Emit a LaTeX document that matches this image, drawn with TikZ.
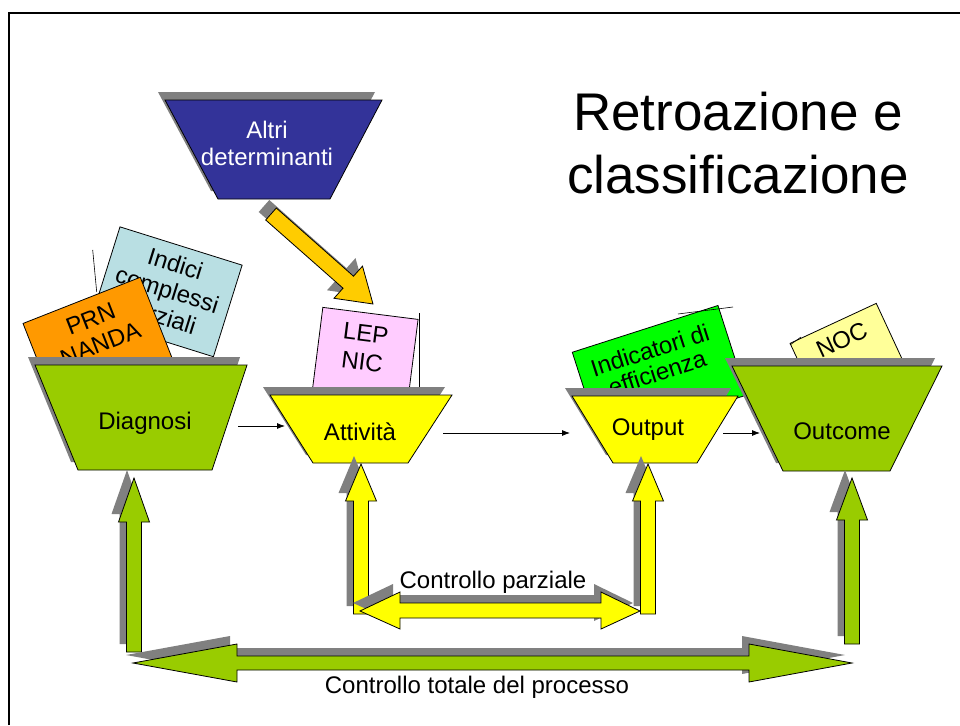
\documentclass[tikz,border=0pt]{standalone}
\usepackage{fontspec}
\setmainfont{Liberation Sans}
\usetikzlibrary{shadows,arrows.meta}

\definecolor{limegr}{HTML}{99CC00}
\definecolor{yell}{HTML}{FFFF00}
\definecolor{detblue}{HTML}{333399}
\definecolor{amber}{HTML}{FFCC00}
\definecolor{cardblue}{HTML}{B9DFE3}
\definecolor{cardorange}{HTML}{FF9900}
\definecolor{cardpink}{HTML}{FFCCFF}
\definecolor{cardgreen}{HTML}{00FF00}
\definecolor{cardcream}{HTML}{FFFF99}

\tikzset{
  grayshadow/.style={drop shadow={shadow xshift=-7pt, shadow yshift=8pt,
      fill=black!50, opacity=1}},
  funnel/.style={draw=black, line width=0.8pt, grayshadow},
  card/.style={rectangle, draw=black, line width=0.8pt, inner sep=0pt},
  lbl/.style={align=center, inner sep=0pt,
      font=\fontsize{24}{27}\selectfont},
  blockarrow/.style={draw=black, line width=0.8pt, grayshadow},
  flow/.style={-{Latex[length=8pt,width=6pt]}, line width=0.8pt},
}

\begin{document}
\begin{tikzpicture}[x=1pt, y=-1pt]
   \useasboundingbox (0,0) rectangle (960,725);
   %
   \draw[line width=2pt] (9,725) -- (9,13) -- (960,13);
   %
   \node[align=center, inner sep=0pt, font=\fontsize{53}{63}\selectfont]
        (title) at (738,143) {Retroazione e\\classificazione};
   %
   \filldraw[funnel, fill=detblue] (165,100) -- (382,100) -- (330,199) --
        (218,199) -- cycle;
   \node[lbl, text=white] (altri) at (267,143) {Altri\\determinanti};
   %
   \filldraw[blockarrow, fill=amber]
        (265.7,220) -- (343,288.2) -- (334,298.3) -- (373,304) --
        (362.5,266.1) -- (353.5,276.2) -- (276.3,208) -- cycle;
   %
   % cards
   \node[card, lbl, fill=cardblue, rotate=-17.4, minimum width=128pt,
         minimum height=96pt] (indici) at (166.7,291.8)
         {Indici\\complessi\\parziali};
   \draw[line width=0.6pt] (92.7,250) -- (96.7,292);
   %
   \node[card, fill=cardorange, rotate=21.5, minimum width=126pt,
         minimum height=110pt, anchor=north] (prn) at (81.5,300) {};
   \node[lbl, rotate=21.5] (prntext) at (95.5,331.5) {PRN\\NANDA};
   %
   \node[card, fill=cardpink, rotate=-7.2, minimum width=96pt,
         minimum height=100pt, anchor=north] (lep) at (370.5,313) {};
   \node[lbl, rotate=-7.2, font=\fontsize{24}{29}\selectfont]
        (leptext) at (364,347.5) {LEP\\NIC};
   \draw[line width=0.6pt] (419,313) -- (419,387);
   %
   \node[card, fill=cardgreen, rotate=17.8, minimum width=153pt,
         minimum height=94pt, anchor=north] (indic) at (645,328.5) {};
   \node[lbl, rotate=17.8, font=\fontsize{24}{24}\selectfont]
        (indictext) at (653.5,361.5) {Indicatori di\\efficienza};
   \draw[line width=0.6pt] (678,314) -- (733,307);
   %
   \node[card, fill=cardcream, rotate=24.9, minimum width=95pt,
         minimum height=90pt, anchor=north] (noc) at (833,323) {};
   \node[lbl, rotate=24.9] (noctext) at (841.7,340) {NOC};
   \draw[line width=0.6pt] (790,345) -- (801,337);
   %
   % funnels
   \filldraw[funnel, fill=limegr] (35,365) -- (247,365) -- (212,470) --
        (78,470) -- cycle;
   \node[lbl] (dgn) at (145,423) {Diagnosi};
   \coordinate (dgn-out) at (238,426);
   %
   \filldraw[funnel, fill=yell] (270,395) -- (452,395) -- (408,463) --
        (313,463) -- cycle;
   \node[lbl] (att) at (360,432) {Attività};
   \coordinate (att-in) at (285,426);
   \coordinate (att-out) at (443,433);
   %
   \filldraw[funnel, fill=yell] (572,396) -- (738,396) -- (697,463) --
        (613,463) -- cycle;
   \node[lbl] (outp) at (648,430) {Output};
   \coordinate (outp-in) at (570,433);
   \coordinate (outp-out) at (723,433);
   %
   \filldraw[funnel, fill=limegr] (732,366) -- (942,366) -- (890,471) --
        (783,471) -- cycle;
   \node[lbl] (outc) at (842,431) {Outcome};
   \coordinate (outc-in) at (760,433);
   %
   \draw[flow] (dgn-out) -- (att-in);
   \draw[flow] (att-out) -- (outp-in);
   \draw[flow] (outp-out) -- (outc-in);
   %
   % feedback arrows
   \foreach \x/\ybot/\ybase/\ytip/\col in
      {134/652/522/478/limegr, 361/614/501/464/yell,
       648/614/501/464/yell, 852/644/520/478/limegr}
     \filldraw[blockarrow, fill=\col]
        (\x-7.5,\ybot) -- (\x-7.5,\ybase) -- (\x-15.5,\ybase) -- (\x,\ytip) --
        (\x+15.5,\ybase) -- (\x+7.5,\ybase) -- (\x+7.5,\ybot) -- cycle;
   %
   \filldraw[blockarrow, fill=yell]
        (360,611) -- (400,592) -- (400,603) -- (601,603) -- (601,592) --
        (640,611) -- (601,629) -- (601,618) -- (400,618) -- (400,629) -- cycle;
   \filldraw[blockarrow, fill=limegr]
        (133,663) -- (237,644) -- (237,656) -- (749,656) -- (749,644) --
        (852,663) -- (749,682) -- (749,670) -- (237,670) -- (237,682) -- cycle;
   %
   \node[lbl] (parz) at (493,582) {Controllo parziale};
   \node[lbl] (tot) at (477,687) {Controllo totale del processo};
   %
\end{tikzpicture}
\end{document}
